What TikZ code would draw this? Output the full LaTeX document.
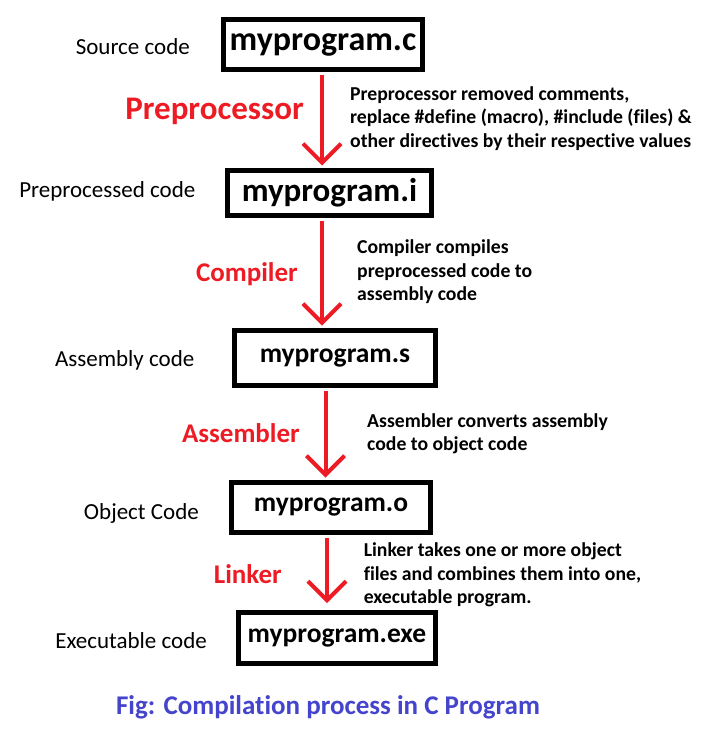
\documentclass[tikz,border=0pt]{standalone}
\usepackage{fontspec}
\setmainfont{Carlito}[Ligatures = NoCommon]
\usetikzlibrary{arrows.meta}

\definecolor{flowred}{RGB}{237, 28, 36}
\definecolor{captionblue}{RGB}{68, 68, 204}

\begin{document}
\begin{tikzpicture}[x = 1pt, y = -1pt,
	filebox/.style = {draw, line width = 5pt, inner sep = 0pt, minimum width = 200pt, minimum height = 50pt, font = \fontsize{#1}{#1}\selectfont\bfseries},
	stagename/.style = {anchor = base east, inner sep = 0pt, text = flowred, font = \fontsize{#1}{#1}\selectfont\bfseries},
	codename/.style = {anchor = base east, inner sep = 0pt, font = \fontsize{23}{28}\selectfont},
	note/.style = {anchor = north west, inner sep = 0pt, align = left, font = \fontsize{19.7}{23.5}\selectfont\bfseries},
	flow/.style = {draw = flowred, line width = 4pt, -{Straight Barb[length = 19pt, width = 38pt]}, shorten <= 2.5pt, shorten >= 2.5pt}]

	\useasboundingbox (0, 0) rectangle (715, 736);

	% Files
	
	\node [filebox = 34, minimum width = 199pt] (src) at (323, 44.5) {myprogram.c};
	\node [filebox = 33, minimum width = 204pt, minimum height = 45pt] (pre) at (329.5, 193) {myprogram.i};
	\node [filebox = 27.5, minimum width = 201pt, minimum height = 55pt] (asm) at (335, 358) {myprogram.s};
	\node [filebox = 27.5, minimum width = 199pt] (obj) at (331, 507.5) {myprogram.o};
	\node [filebox = 27.5, minimum width = 197pt, minimum height = 51pt] (exe) at (337, 638) {myprogram.exe};
	
	% What each file is
	
	\node [codename] (srcname) at (190, 54) {Source code};
	\node [codename] (prename) at (195.5, 197) {Preprocessed code};
	\node [codename] (asmname) at (194.5, 366.5) {Assembly code};
	\node [codename] (objname) at (199, 519) {Object Code};
	\node [codename] (exename) at (207, 648) {Executable code};
	
	% Steps
	
	\draw [flow] (src.south -| 322, 0) -- (pre.north -| 322, 0);
	\draw [flow] (pre.south -| 322, 0) -- (asm.north -| 322, 0);
	\draw [flow] (asm.south -| 325.5, 0) -- (obj.north -| 325.5, 0);
	\draw [flow, shorten >= 7pt] (obj.south -| 327, 0) -- (exe.north -| 327, 0);
	
	\node [stagename = 33] (prep) at (304, 119) {Preprocessor};
	\node [stagename = 27] (comp) at (298, 281) {Compiler};
	\node [stagename = 27] (assem) at (300, 442) {Assembler};
	\node [stagename = 27] (link) at (282, 583) {Linker};
	
	\node [note] (prepnote) at (350, 86) {Preprocessor removed comments,\\ replace \#define (macro), \#include (files) \&\\ other directives by their respective values};
	\node [note] (compnote) at (357, 239.7) {Compiler compiles\\ preprocessed code to\\ assembly code};
	\node [note] (assemnote) at (367, 413.4) {Assembler converts assembly\\ code to object code};
	\node [note] (linknote) at (363.6, 542.7) {Linker takes one or more object\\ files and combines them into one,\\ executable program.};
	
	% Caption
	
	\node [anchor = base, inner sep = 0pt, text = captionblue, font = \fontsize{27}{32}\selectfont\bfseries] (caption) at (328, 714) {Fig: Compilation process in C Program};

\end{tikzpicture}
\end{document}
